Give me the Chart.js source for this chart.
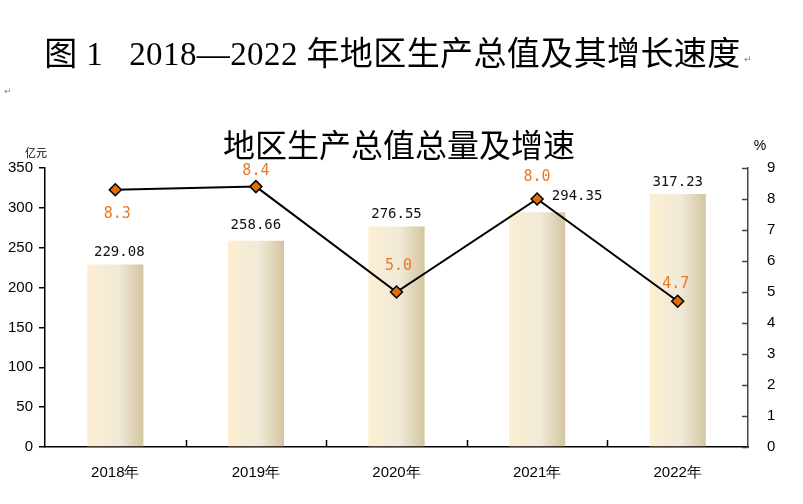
<!DOCTYPE html>
<html>
<head>
<meta charset="utf-8">
<script src="https://cdn.jsdelivr.net/npm/chart.js@4/dist/chart.umd.min.js"></script>
<style>
	html, body { margin: 0; padding: 0; background: #fff; }
	#wrap { position: relative; width: 803px; height: 504px; overflow: hidden; }
	#chart { position: absolute; left: 0; top: 0; }
	.heading {
		position: absolute; left: -9px; top: 27px; width: 803px; text-align: center;
		font-family: "Liberation Serif", "Noto Sans CJK SC", serif;
		font-size: 33px; color: #000; white-space: pre; letter-spacing: 0.4px;
	}
	.mark { position: absolute; font-family: "DejaVu Sans", sans-serif; font-size: 9px; color: #888; }
</style>
</head>
<body>
<div id="wrap">
	<canvas id="chart" width="803" height="504"></canvas>
	<div class="heading">图 1   2018—2022 年地区生产总值及其增长速度</div>
	<span class="mark" style="left:744px; top:54px;">↵</span>
	<span class="mark" style="left:4px; top:86px;">↵</span>
</div>
<script>
// data
const years = ["2018年", "2019年", "2020年", "2021年", "2022年"];
const gdpTotal = [229.08, 258.66, 276.55, 294.35, 317.23];
const growthRate = [8.3, 8.4, 5.0, 8.0, 4.7];
const leftTicks = [0, 50, 100, 150, 200, 250, 300, 350];
const rightTicks = [0, 1, 2, 3, 4, 5, 6, 7, 8, 9];

// label nudges (px) relative to the mark they belong to
const barLabelShift = [[4, -12], [0, -15], [0, -12], [40, -16], [0, -12]];
const lineLabelShift = [[2, 24], [0, -15], [2, -26], [0, -22], [-2, -17]];

const monoFont = "'DejaVu Sans Mono', monospace";
const tickFont = { family: "'Liberation Sans Narrow', 'Liberation Sans', sans-serif", size: 15 };
const BAR_PCT = 0.4;

// horizontal cream gradient, one per bar
function barFill(context) {
	const chart = context.chart;
	const xs = chart.scales.x;
	if (!chart.chartArea || !xs || context.dataIndex === undefined) return "#F3E9D2";
	const cx = xs.getPixelForValue(context.dataIndex);
	const w = (chart.chartArea.width / years.length) * BAR_PCT;
	const g = chart.ctx.createLinearGradient(cx - w / 2, 0, cx + w / 2, 0);
	g.addColorStop(0, "#FDEED0");
	g.addColorStop(0.55, "#F0EAD9");
	g.addColorStop(1, "#D4C5A0");
	return g;
}

const extras = {
	id: "extras",
	afterDraw(chart) {
		const ctx = chart.ctx;
		const { right, bottom } = chart.chartArea;
		const yR = chart.scales.yR;
		const x = chart.scales.x;
		ctx.save();
		// inward ticks on the right axis
		ctx.strokeStyle = "#444";
		ctx.lineWidth = 1.5;
		rightTicks.forEach((v) => {
			const py = Math.round(yR.getPixelForValue(v)) + 0.5;
			ctx.beginPath();
			ctx.moveTo(right - 6, py);
			ctx.lineTo(right, py);
			ctx.stroke();
		});
		// category separators on the x axis, pointing up
		ctx.strokeStyle = "#000";
		for (let i = 1; i < years.length; i++) {
			const px = Math.round((x.getPixelForValue(i - 1) + x.getPixelForValue(i)) / 2) + 0.5;
			ctx.beginPath();
			ctx.moveTo(px, bottom);
			ctx.lineTo(px, bottom - 7);
			ctx.stroke();
		}
		// title and units
		ctx.fillStyle = "#000";
		ctx.textAlign = "center";
		ctx.textBaseline = "middle";
		ctx.font = "32px 'Noto Sans CJK SC', sans-serif";
		ctx.fillText("地区生产总值总量及增速", 399, 145);
		ctx.font = "11px 'Noto Sans CJK SC', sans-serif";
		ctx.fillText("亿元", 36, 153);
		ctx.font = "14px 'Liberation Sans', sans-serif";
		ctx.fillText("%", 760, 146);

		// bar value labels
		const barMeta = chart.getDatasetMeta(1);
		ctx.font = "14px " + monoFont;
		ctx.fillStyle = "#111";
		barMeta.data.forEach((bar, i) => {
			const [dx, dy] = barLabelShift[i];
			ctx.fillText(gdpTotal[i].toFixed(2), bar.x + dx, bar.y + dy);
		});
		// growth rate labels
		const lineMeta = chart.getDatasetMeta(0);
		ctx.fillStyle = "#E8782A";
		ctx.font = "15px " + monoFont;
		lineMeta.data.forEach((pt, i) => {
			const [dx, dy] = lineLabelShift[i];
			ctx.fillText(growthRate[i].toFixed(1), pt.x + dx, pt.y + dy);
		});
		ctx.restore();
	},
};

new Chart(document.getElementById("chart"), {
	type: "bar",
	data: {
		labels: years,
		datasets: [
			{
				type: "line",
				label: "增速",
				data: growthRate,
				yAxisID: "yR",
				order: 0,
				borderColor: "#000",
				borderWidth: 2,
				tension: 0,
				pointStyle: "rectRot",
				pointRadius: 6,
				pointBackgroundColor: "#E36C0A",
				pointBorderColor: "#000",
				pointBorderWidth: 1.5,
			},
			{
				type: "bar",
				label: "地区生产总值",
				data: gdpTotal,
				yAxisID: "y",
				order: 1,
				backgroundColor: barFill,
				borderWidth: 0,
				categoryPercentage: 1,
				barPercentage: BAR_PCT,
			},
		],
	},
	plugins: [extras],
	options: {
		responsive: false,
		animation: false,
		devicePixelRatio: 1,
		layout: { padding: { top: 168, left: 0, right: 0, bottom: 0 } },
		plugins: { legend: { display: false }, tooltip: { enabled: false }, title: { display: false } },
		scales: {
			x: {
				offset: true,
				grid: { display: false },
				border: { display: true, color: "#000", width: 1.5 },
				ticks: { font: tickFont, color: "#000", padding: 9, maxRotation: 0 },
				afterFit(s) { s.height = 504 - 447; },
			},
			y: {
				position: "left",
				min: 0,
				max: 350,
				afterBuildTicks(s) { s.ticks = leftTicks.map((v) => ({ value: v })); },
				grid: { display: true, drawOnChartArea: false, drawTicks: true, tickLength: 6, color: "#000", lineWidth: 1.5 },
				border: { display: true, color: "#000", width: 1.5 },
				ticks: { font: tickFont, color: "#000", padding: 6 },
				afterFit(s) { s.width = 45; },
			},
			yR: {
				position: "right",
				min: 0,
				max: 9,
				afterBuildTicks(s) { s.ticks = rightTicks.map((v) => ({ value: v })); },
				grid: { display: false },
				border: { display: true, color: "#444", width: 1.5 },
				ticks: { font: tickFont, color: "#000", padding: 11 },
				afterFit(s) { s.width = 803 - 748; },
			},
		},
	},
});
</script>
</body>
</html>
